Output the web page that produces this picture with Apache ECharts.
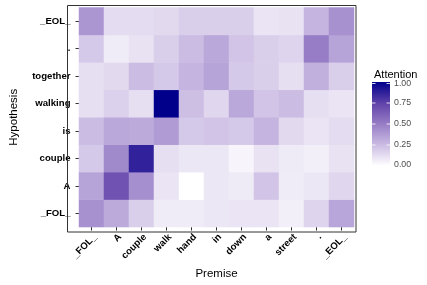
<!DOCTYPE html>
<html>
<head>
<meta charset="utf-8">
<script src="https://cdn.jsdelivr.net/npm/echarts@6/dist/echarts.min.js"></script>
<style>html,body{margin:0;padding:0;background:#fff}#c{width:427px;height:285px}</style>
</head>
<body>
<div id="c"></div>
<script>
var premise = ['_FOL_', 'A', 'couple', 'walk', 'hand', 'in', 'down', 'a', 'street', '.', '_EOL_'];
var hypothesis = ['_FOL_', 'A', 'couple', 'is', 'walking', 'together', '.', '_EOL_'];
// rows follow hypothesis order (bottom to top), columns follow premise order
var rowFOL      = [0.42, 0.32, 0.18, 0.07, 0.07, 0.09, 0.10, 0.10, 0.06, 0.16, 0.34];
var rowA        = [0.35, 0.68, 0.43, 0.10, 0.00, 0.09, 0.08, 0.22, 0.07, 0.09, 0.15];
var rowCouple   = [0.20, 0.45, 0.87, 0.12, 0.09, 0.09, 0.04, 0.11, 0.08, 0.06, 0.11];
var rowIs       = [0.25, 0.33, 0.32, 0.38, 0.20, 0.22, 0.20, 0.28, 0.14, 0.10, 0.13];
var rowWalking  = [0.12, 0.17, 0.12, 1.00, 0.24, 0.15, 0.33, 0.22, 0.25, 0.12, 0.10];
var rowTogether = [0.12, 0.14, 0.25, 0.20, 0.28, 0.35, 0.20, 0.18, 0.12, 0.30, 0.18];
var rowDot      = [0.20, 0.07, 0.11, 0.18, 0.25, 0.33, 0.22, 0.18, 0.16, 0.50, 0.35];
var rowEOL      = [0.40, 0.13, 0.13, 0.14, 0.18, 0.18, 0.18, 0.10, 0.11, 0.28, 0.42];
var legendTicks = [0, 0.25, 0.5, 0.75, 1];

var rows = [rowFOL, rowA, rowCouple, rowIs, rowWalking, rowTogether, rowDot, rowEOL];
var data = [];
rows.forEach(function (r, yi) { r.forEach(function (v, xi) { data.push([xi, yi, v]); }); });

var stops = ['#FFFFFF', '#CBBCE3', '#977DC6', '#5F41A9', '#00008B'];
var font = '"Liberation Sans", Arial, sans-serif';

// colorbar geometry
var cbX = 372, cbTop = 82, cbH = 84, cbW = 18;
var graphics = [
  { type: 'rect', shape: { x: 67.5, y: 5.5, width: 288.5, height: 226.5 }, style: { fill: 'none', stroke: '#333', lineWidth: 1 }, z: 10 },
  { type: 'text', left: 374, top: 69, style: { text: 'Attention', font: '11px ' + font, fill: '#000' } },
  { type: 'rect', shape: { x: cbX, y: cbTop, width: cbW, height: cbH },
    style: { fill: new echarts.graphic.LinearGradient(0, 1, 0, 0, stops.map(function (c, i) { return { offset: i / (stops.length - 1), color: c }; })) } }
];
legendTicks.forEach(function (t) {
  var y = cbTop + cbH - t * cbH + (t === 1 ? 1.5 : t === 0 ? -1 : 0);
  graphics.push({ type: 'text', x: cbX + cbW + 4, y: y, style: { text: t.toFixed(2), font: '8.8px ' + font, fill: '#4d4d4d', verticalAlign: 'middle' } });
  graphics.push({ type: 'line', shape: { x1: cbX, y1: y, x2: cbX + 3.5, y2: y }, style: { stroke: 'rgba(255,255,255,0.8)', lineWidth: 1 } });
  graphics.push({ type: 'line', shape: { x1: cbX + cbW - 3.5, y1: y, x2: cbX + cbW, y2: y }, style: { stroke: 'rgba(255,255,255,0.8)', lineWidth: 1 } });
});

var chart = echarts.init(document.getElementById('c'), null, { renderer: 'canvas' });
chart.setOption({
  animation: false,
  backgroundColor: '#fff',
  grid: { left: 68, right: 73, top: 7.5, bottom: 54 },
  xAxis: {
    type: 'category', data: premise, name: 'Premise', nameLocation: 'middle', nameGap: 38,
    nameTextStyle: { fontFamily: font, fontSize: 11.5, color: '#000' },
    axisLine: { show: false },
    axisTick: { show: true, alignWithLabel: true, length: 3.5, lineStyle: { color: '#333' } },
    axisLabel: { rotate: 45, fontFamily: font, fontSize: 9.6, fontWeight: 'bold', color: '#000', margin: 5, interval: 0, verticalAlign: 'top' },
    splitLine: { show: false }
  },
  yAxis: {
    type: 'category', data: hypothesis, name: 'Hypothesis', nameLocation: 'middle', nameGap: 59,
    nameTextStyle: { fontFamily: font, fontSize: 11.5, color: '#000' },
    axisLine: { show: false },
    axisTick: { show: true, alignWithLabel: true, length: 3.5, lineStyle: { color: '#333' } },
    axisLabel: { fontFamily: font, fontSize: 9.6, fontWeight: 'bold', color: '#000', margin: 8.5, interval: 0 },
    splitLine: { show: false }
  },
  visualMap: { show: false, min: 0, max: 1, dimension: 2, inRange: { color: stops } },
  series: [{ type: 'heatmap', data: data, itemStyle: { borderWidth: 0 } }],
  graphic: graphics
});
</script>
</body>
</html>
